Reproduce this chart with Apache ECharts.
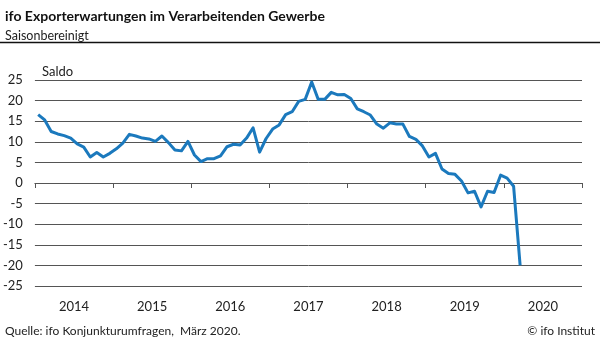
<!DOCTYPE html>
<html><head><meta charset="utf-8">
<script src="https://cdn.jsdelivr.net/npm/echarts@6/dist/echarts.min.js"></script>
<style>html,body{margin:0;padding:0;background:#fff}#c{width:600px;height:338px}</style>
</head><body><div id="c"></div>
<script>
// Monthly values, Jan 2014 .. Mar 2020
const startYear = 2014;
const values = [
  16.6, 15.3, 12.5, 11.9, 11.5, 10.9, 9.5, 8.7, 6.3, 7.4, 6.3, 7.2,
  8.3, 9.7, 11.8, 11.4, 10.9, 10.7, 10.1, 11.4, 9.8, 8.0, 7.8, 10.1,
  6.8, 5.2, 5.9, 5.9, 6.6, 8.8, 9.4, 9.2, 10.9, 13.4, 7.5, 10.8,
  13.1, 14.1, 16.6, 17.3, 19.8, 20.3, 24.5, 20.3, 20.3, 22.0, 21.4, 21.5,
  20.5, 18.0, 17.3, 16.5, 14.3, 13.3, 14.6, 14.3, 14.3, 11.3, 10.6, 9.0,
  6.3, 7.2, 3.4, 2.3, 2.1, 0.5, -2.4, -2.0, -5.8, -2.0, -2.3, 1.9,
  1.2, -0.8, -20.0
];
const years = ['2014', '2015', '2016', '2017', '2018', '2019', '2020'];
const yTicks = { min: -25, max: 25, step: 5 };

const txt = '#222';
const font = 'Lato';
const chart = echarts.init(document.getElementById('c'));
chart.setOption({
  animation: false,
  textStyle: { fontFamily: font },
  title: [
    { text: 'ifo Exporterwartungen im Verarbeitenden Gewerbe', left: 0, top: 4,
      textStyle: { fontSize: 14, fontWeight: 'bold', color: '#111', fontFamily: font } },
    { text: 'Saisonbereinigt', left: 0, top: 24,
      textStyle: { fontSize: 12.5, fontWeight: 'normal', color: txt, fontFamily: font } },
    { text: 'Saldo', left: 37, top: 60,
      textStyle: { fontSize: 13, fontWeight: 'normal', color: txt, fontFamily: font } },
    { text: 'Quelle: ifo Konjunkturumfragen,  März 2020.', left: 0, top: 320,
      textStyle: { fontSize: 12, fontWeight: 'normal', color: txt, fontFamily: font } },
    { text: '© ifo Institut', right: 0, top: 320,
      textStyle: { fontSize: 12, fontWeight: 'normal', color: txt, fontFamily: font } }
  ],
  graphic: [
    { type: 'line', shape: { x1: 0, y1: 42.5, x2: 600, y2: 42.5 },
      style: { stroke: '#111', lineWidth: 1.5 } }
  ],
  grid: { left: 34, right: 18, top: 80, bottom: 52 },
  xAxis: [
    { type: 'value', min: 0, max: years.length * 12, interval: 12,
      axisLine: { show: true, lineStyle: { color: '#555', width: 1 } },
      axisTick: { show: true, length: 5, lineStyle: { color: '#555', width: 1 } },
      axisLabel: { show: false }, splitLine: { show: false } },
    { type: 'category', data: years, position: 'bottom', boundaryGap: true,
      axisLine: { show: false }, axisTick: { show: false }, splitLine: { show: false },
      axisLabel: { fontSize: 13, color: txt, margin: 14, fontFamily: font } }
  ],
  yAxis: {
    type: 'value', min: yTicks.min, max: yTicks.max, interval: yTicks.step,
    axisLine: { show: false }, axisTick: { show: false },
    axisLabel: { fontSize: 13, color: txt, margin: 12, fontFamily: font },
    splitLine: { show: true, lineStyle: { color: '#555', width: 1 } }
  },
  series: [{
    type: 'line', xAxisIndex: 0,
    data: values.map((v, i) => [i + 0.5, v]),
    showSymbol: false, symbol: 'none',
    lineStyle: { color: '#1b79bd', width: 3, join: 'round' }
  }]
});
</script></body></html>
